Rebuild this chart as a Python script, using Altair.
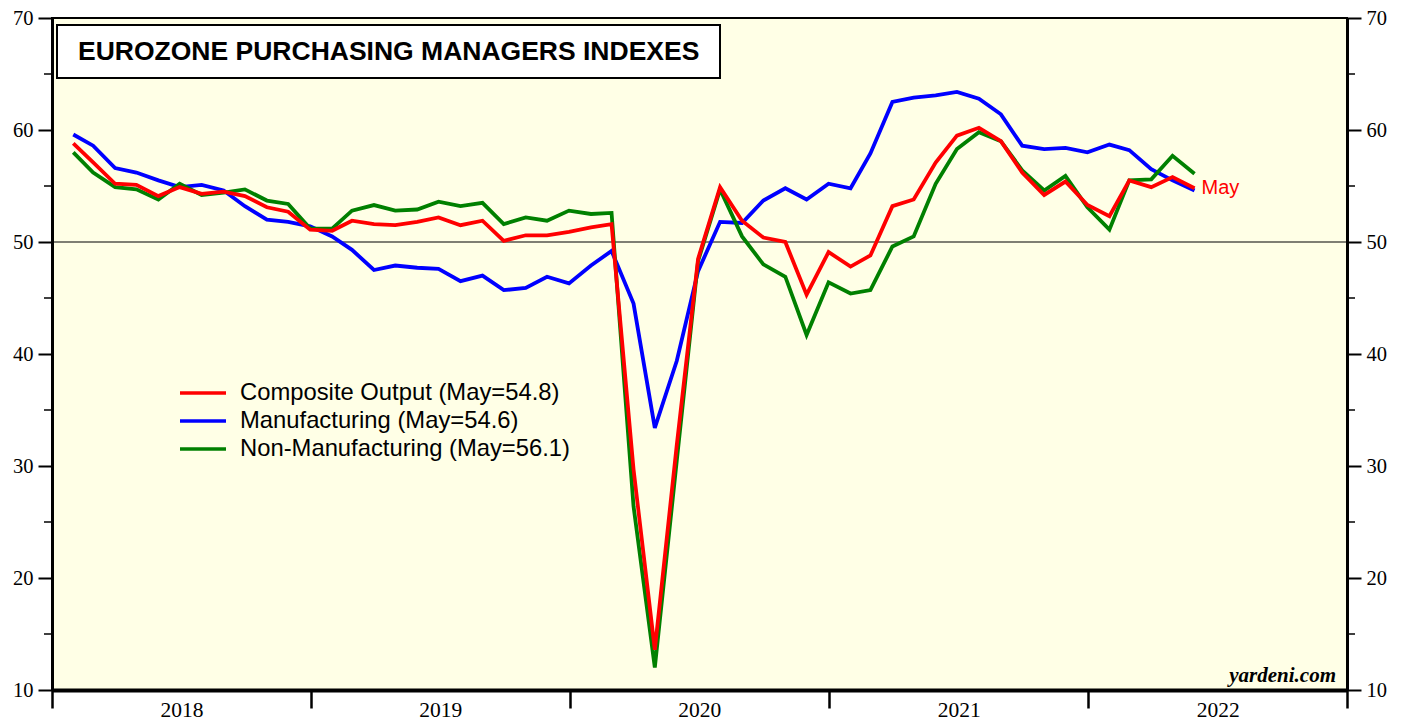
import altair as alt
import pandas as pd

# ---------------- data (monthly, Jan 2018 .. May 2022) ----------------
composite = [
    58.8, 57.1, 55.2, 55.1, 54.1, 54.9, 54.3, 54.5, 54.1, 53.1, 52.7, 51.1,
    51.0, 51.9, 51.6, 51.5, 51.8, 52.2, 51.5, 51.9, 50.1, 50.6, 50.6, 50.9,
    51.3, 51.6, 29.7, 13.6, 31.9, 48.5, 54.9, 51.9, 50.4, 50.0, 45.3, 49.1,
    47.8, 48.8, 53.2, 53.8, 57.1, 59.5, 60.2, 59.0, 56.2, 54.2, 55.4, 53.3,
    52.3, 55.5, 54.9, 55.8, 54.8,
]
manufacturing = [
    59.6, 58.6, 56.6, 56.2, 55.5, 54.9, 55.1, 54.6, 53.2, 52.0, 51.8, 51.4,
    50.5, 49.3, 47.5, 47.9, 47.7, 47.6, 46.5, 47.0, 45.7, 45.9, 46.9, 46.3,
    47.9, 49.2, 44.5, 33.4, 39.4, 47.4, 51.8, 51.7, 53.7, 54.8, 53.8, 55.2,
    54.8, 57.9, 62.5, 62.9, 63.1, 63.4, 62.8, 61.4, 58.6, 58.3, 58.4, 58.0,
    58.7, 58.2, 56.5, 55.5, 54.6,
]
non_manufacturing = [
    58.0, 56.2, 54.9, 54.7, 53.8, 55.2, 54.2, 54.4, 54.7, 53.7, 53.4, 51.2,
    51.2, 52.8, 53.3, 52.8, 52.9, 53.6, 53.2, 53.5, 51.6, 52.2, 51.9, 52.8,
    52.5, 52.6, 26.4, 12.0, 30.5, 48.3, 54.7, 50.5, 48.0, 46.9, 41.7, 46.4,
    45.4, 45.7, 49.6, 50.5, 55.2, 58.3, 59.8, 59.0, 56.4, 54.6, 55.9, 53.1,
    51.1, 55.5, 55.6, 57.7, 56.1,
]
series_labels = [
    "Composite Output (May=54.8)",
    "Manufacturing (May=54.6)",
    "Non-Manufacturing (May=56.1)",
]
series_colors = ["#FF0000", "#0000FF", "#008000"]
years = [2018, 2019, 2020, 2021, 2022, 2023]
y_major = [10, 20, 30, 40, 50, 60, 70]
y_minor = [15, 25, 35, 45, 55, 65]
ref_level = [50]
last_label = ["May"]

# month-end dates
dates = []
for y in range(2018, 2023):
    for m in range(1, 13):
        if len(dates) < len(composite):
            dates.append((pd.Timestamp(y, m, 1) + pd.offsets.MonthEnd(0)).strftime("%Y-%m-%d"))

records = []
for name, vals in [(series_labels[1], manufacturing),
                   (series_labels[2], non_manufacturing),
                   (series_labels[0], composite)]:
    for d, v in zip(dates, vals):
        records.append({"date": d, "series": name, "value": v})
df = pd.DataFrame(records)

W, H = 1295, 672
BG = "#FFFFE6"
SERIF = "Liberation Serif"
SANS = "Liberation Sans"

xscale = alt.Scale(type="utc", domain=[alt.DateTime(year=2018, month=1, date=1, utc=True),
                                       alt.DateTime(year=2023, month=1, date=1, utc=True)])
yscale = alt.Scale(domain=[10, 70], nice=False, zero=False)
cscale = alt.Scale(domain=series_labels, range=series_colors)

xaxis = alt.Axis(
    values=[alt.DateTime(year=y, month=1, date=1, utc=True) for y in years],
    format="%Y", labelExpr="datum.label == '2023' ? '' : datum.label",
    labelOffset=W / 10, labelPadding=-9, labelFlush=False, labelOverlap=False,
    tickSize=18, tickWidth=2.5, tickColor="black",
    domainColor="black", domainWidth=4, grid=False, title=None,
    labelFont=SERIF, labelFontSize=21.5, labelColor="black",
)


def yaxis(orient):
    return alt.Axis(
        orient=orient, values=y_major, tickSize=14, tickWidth=2, tickColor="black",
        domainColor="black", domainWidth=3, grid=False, title=None,
        labelFont=SERIF, labelFontSize=20.5, labelColor="black", labelPadding=5,
    )


legend = alt.Legend(
    title=None, orient="none", legendX=126, legendY=361, direction="vertical",
    symbolType="stroke", symbolSize=2116, symbolStrokeWidth=3.5,
    labelFont=SANS, labelFontSize=23.8, labelColor="black", labelLimit=800,
    clipHeight=28, rowPadding=0, padding=0, labelOffset=12, offset=0,
)

one = pd.DataFrame({"k": [0]})

rule50 = alt.Chart(pd.DataFrame({"level": ref_level})).mark_rule(color="black", strokeWidth=1.2).encode(
    y=alt.Y("level:Q", scale=yscale, axis=yaxis("right"))
)

minor_df = pd.DataFrame({"tick": y_minor})
minor_left = alt.Chart(minor_df).mark_rule(color="black", strokeWidth=1.5).encode(
    y=alt.Y("tick:Q", scale=yscale, axis=None), x=alt.value(-8), x2=alt.value(0)
)
minor_right = alt.Chart(minor_df).mark_rule(color="black", strokeWidth=1.5).encode(
    y=alt.Y("tick:Q", scale=yscale, axis=None), x=alt.value(W), x2=alt.value(W + 8)
)

lines = alt.Chart(df).mark_line(strokeWidth=3.8).encode(
    x=alt.X("date:T", scale=xscale, axis=xaxis),
    y=alt.Y("value:Q", scale=yscale, axis=yaxis("left")),
    color=alt.Color("series:N", scale=cscale, legend=legend),
)

may_df = pd.DataFrame({"date": [dates[-1]], "value": [composite[-1]], "label": last_label})
may = alt.Chart(may_df).mark_text(
    align="left", baseline="middle", dx=7, fontSize=20, font=SANS, color="#FF0000"
).encode(
    x=alt.X("date:T", scale=xscale, axis=None),
    y=alt.Y("value:Q", scale=yscale, axis=None),
    text="label:N",
)

box = alt.Chart(one).mark_rect(fill="white", stroke="black", strokeWidth=2).encode(
    x=alt.value(5), x2=alt.value(668), y=alt.value(7), y2=alt.value(60)
)
title_txt = alt.Chart(one).mark_text(
    text="EUROZONE PURCHASING MANAGERS INDEXES", align="left", baseline="middle",
    font=SANS, fontWeight="bold", fontSize=26.5, color="black"
).encode(x=alt.value(26), y=alt.value(34))

yard = alt.Chart(one).mark_text(
    text="yardeni.com", align="right", baseline="alphabetic",
    font=SERIF, fontStyle="italic", fontWeight="bold", fontSize=21, color="black"
).encode(x=alt.value(W - 11), y=alt.value(H - 8))

chart = alt.layer(
    rule50, minor_left, minor_right, lines, may, box, title_txt, yard
).resolve_axis(x="independent", y="independent").properties(
    width=W, height=H,
    autosize=alt.AutoSizeParams(type="none"),
    padding={"left": 44, "top": 10, "right": 53, "bottom": 31},
).configure(background="white").configure_view(fill=BG, stroke="black", strokeWidth=2)

chart.save("out.html", embed_options={"renderer": "svg", "actions": False})
